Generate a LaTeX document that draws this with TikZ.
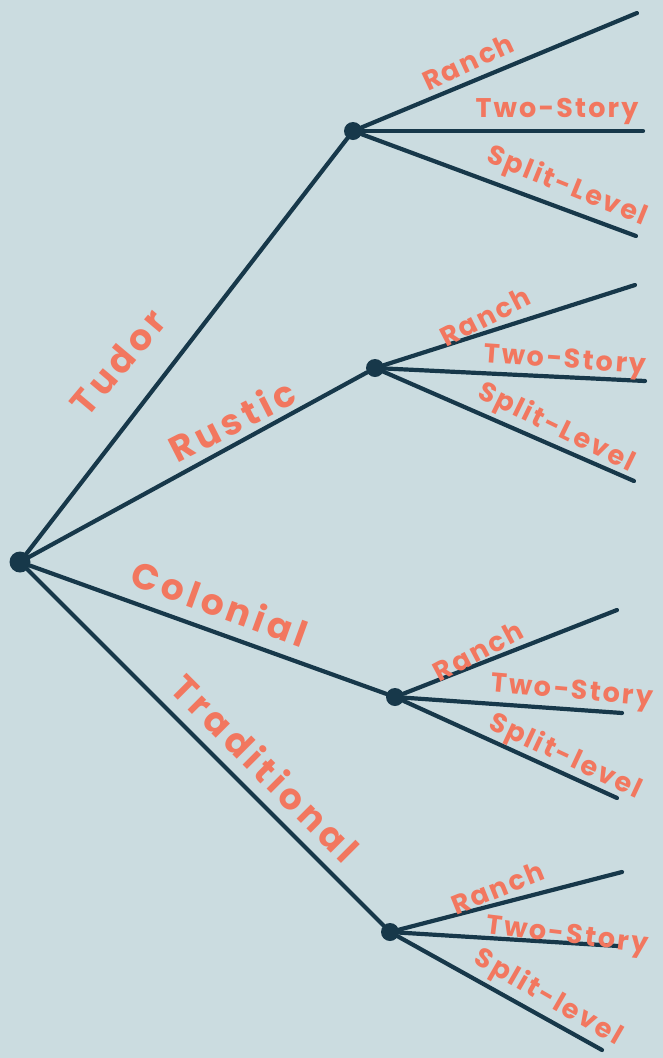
\documentclass[tikz,border=0pt]{standalone}
\usepackage{fontspec}
\setmainfont{Poppins}
\definecolor{bg}{HTML}{CBDCE0}
\definecolor{ink}{HTML}{17384A}
\definecolor{coral}{HTML}{F2775F}
\begin{document}
\begin{tikzpicture}[x=1pt,y=-1pt,
  dot/.style={circle,fill=ink,inner sep=0pt,minimum size=18pt},
  rootdot/.style={circle,fill=ink,inner sep=0pt,minimum size=21pt},
  branch/.style={draw=ink,line width=4.2pt,line cap=round},
  mainlab/.style={text=coral,font=\fontsize{36}{36}\selectfont\bfseries\addfontfeature{LetterSpace=12},inner sep=0pt},
  leaflab/.style={text=coral,font=\fontsize{27}{27}\selectfont\bfseries\addfontfeature{LetterSpace=8},inner sep=0pt}]
\fill[bg] (0,0) rectangle (663,1058);
\useasboundingbox (0,0) rectangle (663,1058);
% nodes
\node[rootdot] (root) at (20,562) {};
\node[dot] (tudor) at (353,131) {};
\node[dot] (rustic) at (375,368) {};
\node[dot] (colonial) at (395,697) {};
\node[dot] (trad) at (390,932) {};
% leaf ends
\coordinate (t1) at (637,13);
\coordinate (t2) at (643,131);
\coordinate (t3) at (636,236);
\coordinate (r1) at (635,285);
\coordinate (r2) at (645,381);
\coordinate (r3) at (634,481);
\coordinate (c1) at (617,610);
\coordinate (c2) at (622,713);
\coordinate (c3) at (617,798);
\coordinate (d1) at (622,872);
\coordinate (d2) at (618,946);
\coordinate (d3) at (602,1050);
% branches
\draw[branch] (root) -- (tudor);
\draw[branch] (root) -- (rustic);
\draw[branch] (root) -- (colonial);
\draw[branch] (root) -- (trad);
\foreach \p/\q in {tudor/t,rustic/r,colonial/c,trad/d}{
  \draw[branch] (\p) -- (\q1);
  \draw[branch] (\p) -- (\q2);
  \draw[branch] (\p) -- (\q3);
}
% main labels
\node[mainlab,rotate=50] (ltudor) at (118,362) {Tudor};
\node[mainlab,rotate=27] (lrustic) at (232,420) {Rustic};
\node[mainlab,rotate=-20] (lcolonial) at (220,603) {Colonial};
\node[mainlab,rotate=-45] (ltrad) at (266,768) {Traditional};
% leaf labels
\node[leaflab,rotate=25] (lt1) at (468,62) {Ranch};
\node[leaflab] (lt2) at (557,111) {Two-Story};
\node[leaflab,rotate=-22] (lt3) at (567,187) {Split-Level};
\node[leaflab,rotate=27] (lr1) at (485,317) {Ranch};
\node[leaflab,rotate=-4] (lr2) at (565,362) {Two-Story};
\node[leaflab,rotate=-26] (lr3) at (556,428) {Split-Level};
\node[leaflab,rotate=28] (lc1) at (478,651) {Ranch};
\node[leaflab,rotate=-5] (lc2) at (572,693) {Two-Story};
\node[leaflab,rotate=-25] (lc3) at (565,757) {Split-level};
\node[leaflab,rotate=22] (ld1) at (498,888) {Ranch};
\node[leaflab,rotate=-7] (ld2) at (567,937) {Two-Story};
\node[leaflab,rotate=-30] (ld3) at (548,998) {Split-level};
\end{tikzpicture}
\end{document}
